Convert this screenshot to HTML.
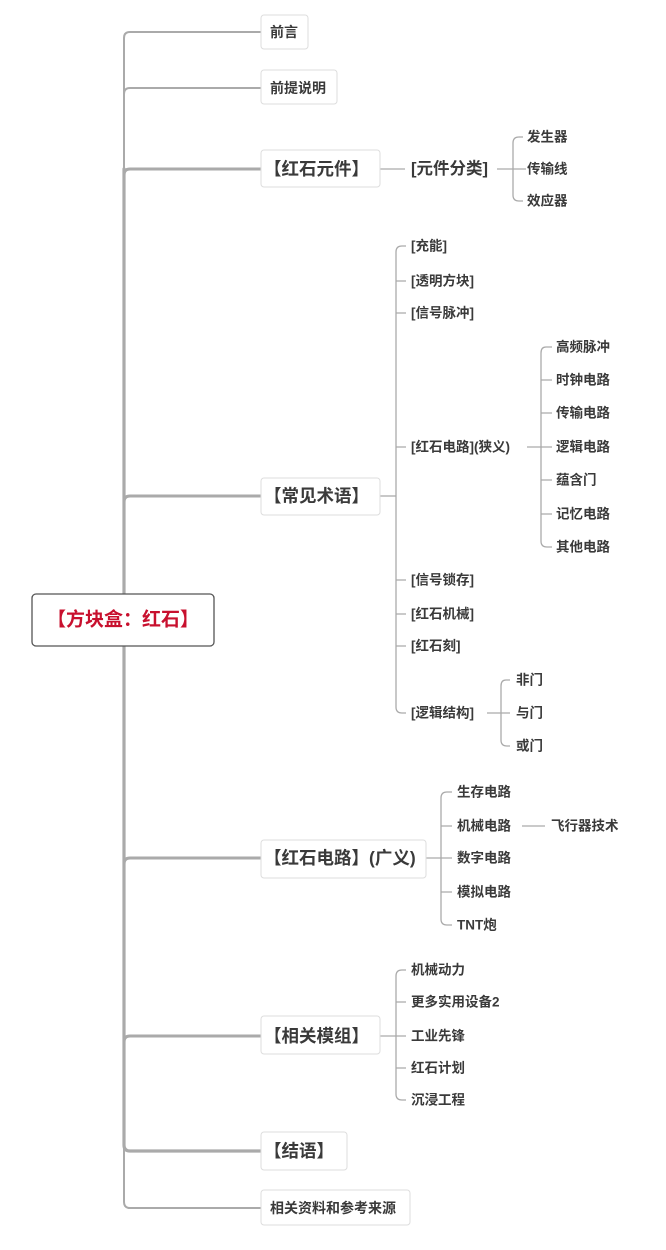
<!DOCTYPE html>
<html><head><meta charset="utf-8"><style>
html,body{margin:0;padding:0;background:#fff;}
svg text{font-family:"Liberation Sans","Noto Sans CJK SC",sans-serif;font-weight:bold;fill:#3a3a3a;dominant-baseline:central;}
</style></head><body>
<svg width="666" height="1245" viewBox="0 0 666 1245" xmlns="http://www.w3.org/2000/svg">
<g fill="none" stroke="#aaa" stroke-linecap="round">
<path d="M261 32 H130 Q124 32 124 38 V1202 Q124 1208 130 1208 H261" stroke-width="2"/>
<path d="M261 88 H130 Q124 88 124 94" stroke-width="2"/>
<path d="M124 175 Q124 169 130 169 H261" stroke-width="3"/>
<path d="M124 169 V1145 Q124 1151 130 1151 H261" stroke-width="3.2"/>
<path d="M124 502 Q124 496 130 496 H261" stroke-width="3"/>
<path d="M124 864 Q124 858 130 858 H261" stroke-width="3"/>
<path d="M124 1042 Q124 1036 130 1036 H261" stroke-width="3"/>
</g>
<g fill="none" stroke="#aaa" stroke-width="1.3">
<path d="M380 169 H405"/>
<path d="M497 169 H526"/>
<path d="M519 137 Q513 137 513 143 V195 Q513 201 519 201 H523"/>
<path d="M519 137 H523"/>
<path d="M380 496 H396"/>
<path d="M406 246 H402 Q396 246 396 252 V707 Q396 713 402 713 H406"/>
<path d="M396 281 H406 M396 313 H406 M396 447 H406 M396 580 H406 M396 614 H406 M396 646 H406"/>
<path d="M527 447 H552"/>
<path d="M552 347 H546 Q541 347 541 353 V541 Q541 547 547 547 H552"/>
<path d="M541 380 H552 M541 413 H552 M541 480 H552 M541 514 H552"/>
<path d="M487 713 H510"/>
<path d="M510 680 H506 Q501 680 501 686 V740 Q501 746 507 746 H510"/>
<path d="M426 858 H452"/>
<path d="M452 792 H447 Q441 792 441 798 V919 Q441 925 447 925 H452"/>
<path d="M441 826 H452 M441 892 H452"/>
<path d="M522 826 H545"/>
<path d="M380 1036 H406"/>
<path d="M406 970 H402 Q396 970 396 976 V1094 Q396 1100 402 1100 H406"/>
<path d="M396 1002 H406 M396 1068 H406"/>
</g>
<g fill="#fff" stroke="#ddd" stroke-width="1">
<rect x="261" y="15" width="47" height="34" rx="3"/>
<rect x="261" y="70" width="76" height="34" rx="3"/>
<rect x="261" y="150" width="119" height="37" rx="3"/>
<rect x="261" y="478" width="119" height="37" rx="3"/>
<rect x="261" y="840" width="165" height="38" rx="3"/>
<rect x="261" y="1016" width="119" height="38" rx="3"/>
<rect x="261" y="1132" width="86" height="38" rx="3"/>
<rect x="261" y="1190" width="149" height="35" rx="3"/>
</g>
<rect x="32" y="594" width="182" height="52" rx="4" fill="#fff" stroke="#555" stroke-width="1.3"/>
<text x="123" y="620" text-anchor="middle" style="fill:#c8102e;font-size:19px">【方块盒：红石】</text>
<g font-size="14">
<text x="270" y="32">前言</text>
<text x="270" y="88">前提说明</text>
<text x="270" y="1208">相关资料和参考来源</text>
</g>
<g font-size="17.5">
<text x="264" y="169">【红石元件】</text>
<text x="264" y="496">【常见术语】</text>
<text x="264" y="858">【红石电路】(广义)</text>
<text x="264" y="1036">【相关模组】</text>
<text x="264" y="1151">【结语】</text>
<text x="411" y="169" font-size="16.5">[元件分类]</text>
</g>
<g font-size="13.5">
<text x="527" y="137">发生器</text>
<text x="527" y="169">传输线</text>
<text x="527" y="201">效应器</text>
<text x="411" y="246">[充能]</text>
<text x="411" y="281">[透明方块]</text>
<text x="411" y="313">[信号脉冲]</text>
<text x="411" y="447">[红石电路](狭义)</text>
<text x="411" y="580">[信号锁存]</text>
<text x="411" y="614">[红石机械]</text>
<text x="411" y="646">[红石刻]</text>
<text x="411" y="713">[逻辑结构]</text>
<text x="556" y="347">高频脉冲</text>
<text x="556" y="380">时钟电路</text>
<text x="556" y="413">传输电路</text>
<text x="556" y="447">逻辑电路</text>
<text x="556" y="480">蕴含门</text>
<text x="556" y="514">记忆电路</text>
<text x="556" y="547">其他电路</text>
<text x="516" y="680">非门</text>
<text x="516" y="713">与门</text>
<text x="516" y="746">或门</text>
<text x="457" y="792">生存电路</text>
<text x="457" y="826">机械电路</text>
<text x="457" y="858">数字电路</text>
<text x="457" y="892">模拟电路</text>
<text x="457" y="925">TNT炮</text>
<text x="551" y="826">飞行器技术</text>
<text x="411" y="970">机械动力</text>
<text x="411" y="1002">更多实用设备2</text>
<text x="411" y="1036">工业先锋</text>
<text x="411" y="1068">红石计划</text>
<text x="411" y="1100">沉浸工程</text>
</g>
</svg>
</body></html>
